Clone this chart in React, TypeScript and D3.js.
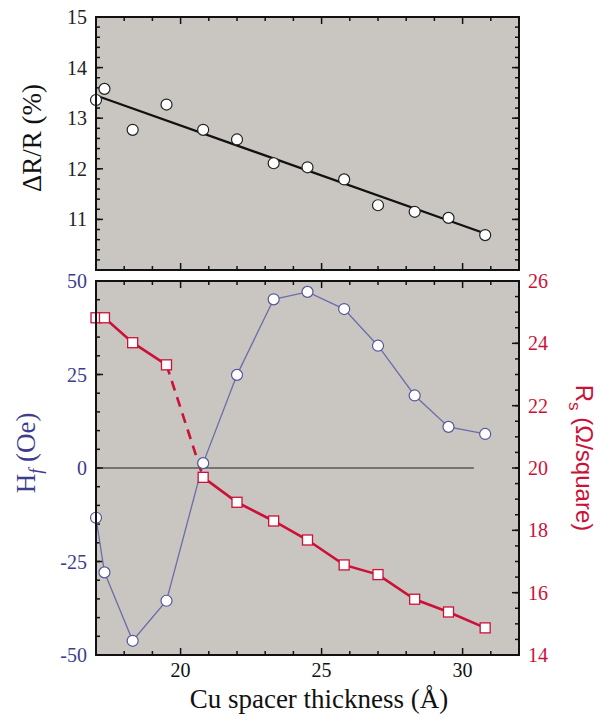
import React from 'react';
import * as d3 from 'd3';

// Cu spacer thickness (Å) shared by all three series
const thickness = [17.0, 17.3, 18.3, 19.5, 20.8, 22.0, 23.3, 24.5, 25.8, 27.0, 28.3, 29.5, 30.8];
const deltaR = [13.36, 13.58, 12.77, 13.27, 12.77, 12.58, 12.11, 12.03, 11.79, 11.28, 11.15, 11.03, 10.69];
const fitX = [17.0, 30.8];
const fitY = [13.45, 10.72];
const hf = [-13.3, -27.9, -46.2, -35.5, 1.3, 24.9, 45.1, 47.1, 42.5, 32.7, 19.4, 11.0, 9.1];
const rs = [24.82, 24.82, 24.02, 23.31, 19.7, 18.9, 18.3, 17.69, 16.89, 16.58, 15.79, 15.38, 14.87];
const zeroLineX = [17, 30.4];

const xTicks = [20, 25, 30];
const drTicks = [11, 12, 13, 14, 15];
const hfTicks = [-50, -25, 0, 25, 50];
const rsTicks = [14, 16, 18, 20, 22, 24, 26];

const W = 599;
const H = 717;
const L = 96;
const R = 519;
const topY0 = 17;
const topY1 = 270;
const botY0 = 281;
const botY1 = 655;

const BLUE = '#3d3d8e';
const BLUE_LINE = '#6c6ca8';
const RED = '#cc1138';
const BG = '#c9c6c2';
const serif = { fontFamily: "'Liberation Serif', 'DejaVu Serif', serif" };
const sans = { fontFamily: "'Liberation Sans', Arial, sans-serif" };

const x = d3.scaleLinear().domain([17, 32]).range([L, R]);
const yTop = d3.scaleLinear().domain([10, 15]).range([topY1, topY0]);
const yHf = d3.scaleLinear().domain([-50, 50]).range([botY1, botY0]);
const yRs = d3.scaleLinear().domain([14, 26]).range([botY1, botY0]);

const xMinor = d3.range(18, 32, 1);

const Frame = ({ y0, y1, yMajor, yMinor, yRMajor, yRMinor }: any) => {
  const ticks: any[] = [];
  xMinor.forEach((v, i) => {
    const len = v % 5 === 0 ? 7 : 4;
    ticks.push(<line key={'xb' + i} x1={x(v)} x2={x(v)} y1={y1} y2={y1 - len} />);
    ticks.push(<line key={'xt' + i} x1={x(v)} x2={x(v)} y1={y0} y2={y0 + len} />);
  });
  yMajor.forEach((p: number, i: number) => ticks.push(<line key={'ym' + i} x1={L} x2={L + 7} y1={p} y2={p} />));
  yMinor.forEach((p: number, i: number) => ticks.push(<line key={'yn' + i} x1={L} x2={L + 4} y1={p} y2={p} />));
  yRMajor.forEach((p: number, i: number) => ticks.push(<line key={'rm' + i} x1={R} x2={R - 7} y1={p} y2={p} />));
  yRMinor.forEach((p: number, i: number) => ticks.push(<line key={'rn' + i} x1={R} x2={R - 4} y1={p} y2={p} />));
  return (
    <g>
      <rect x={L} y={y0} width={R - L} height={y1 - y0} fill={BG} />
      <g stroke="#111" strokeWidth={1.5}>{ticks}</g>
    </g>
  );
};

export default function App() {
  const topMajor = d3.range(10, 15.01, 1).map(v => yTop(v));
  const topMinor = d3.range(10, 15.01, 0.2).map(v => yTop(v));
  const hfMajor = d3.range(-50, 50.01, 25).map(v => yHf(v));
  const hfMinor = d3.range(-50, 50.01, 5).map(v => yHf(v));
  const rsMajor = d3.range(14, 26.01, 2).map(v => yRs(v));
  const rsMinor = d3.range(14, 26.01, 0.5).map(v => yRs(v));

  const fitLine = d3.line<number>().x((d, i) => x(fitX[i])).y(d => yTop(d));
  const hfLine = d3.line<number>().x((d, i) => x(thickness[i])).y(d => yHf(d));
  const rsPts = thickness.map((t, i) => [t, rs[i]] as [number, number]);
  const rsLine = d3.line<[number, number]>().x(d => x(d[0])).y(d => yRs(d[1]));

  return (
    <svg width={W} height={H} style={{ position: 'absolute', left: 0, top: 0, background: '#fff', ...serif }}>
      {/* top panel */}
      <Frame y0={topY0} y1={topY1} yMajor={topMajor} yMinor={topMinor} yRMajor={topMajor} yRMinor={topMinor} />
      <path d={fitLine(fitY) || ''} fill="none" stroke="#111" strokeWidth={2.2} />
      {thickness.map((t, i) => (
        <circle key={'d' + i} cx={x(t)} cy={yTop(deltaR[i])} r={5.5} fill="#fff" stroke="#222" strokeWidth={1.2} />
      ))}
      <rect x={L} y={topY0} width={R - L} height={topY1 - topY0} fill="none" stroke="#111" strokeWidth={2} />
      {drTicks.map(v => (
        <text key={'dt' + v} x={L - 9} y={yTop(v)} dy="0.35em" textAnchor="end" style={serif} fontSize={20} fill="#222">{v}</text>
      ))}
      <text transform={`translate(32,138) rotate(-90)`} textAnchor="middle" dy="0.35em" style={serif} fontSize={27} fill="#111">ΔR/R (%)</text>

      {/* bottom panel */}
      <Frame y0={botY0} y1={botY1} yMajor={hfMajor} yMinor={hfMinor} yRMajor={rsMajor} yRMinor={rsMinor} />
      <line x1={x(zeroLineX[0])} x2={x(zeroLineX[1])} y1={yHf(0)} y2={yHf(0)} stroke="#222" strokeWidth={1} />
      <path d={hfLine(hf) || ''} fill="none" stroke={BLUE_LINE} strokeWidth={1.3} />
      <path d={rsLine(rsPts.slice(0, 4)) || ''} fill="none" stroke={RED} strokeWidth={2.6} />
      <path d={rsLine(rsPts.slice(3, 5)) || ''} fill="none" stroke={RED} strokeWidth={2.6} strokeDasharray="10,7" />
      <path d={rsLine(rsPts.slice(4)) || ''} fill="none" stroke={RED} strokeWidth={2.6} />
      {thickness.map((t, i) => (
        <circle key={'h' + i} cx={x(t)} cy={yHf(hf[i])} r={5.5} fill="#fff" stroke="#55559a" strokeWidth={1.2} />
      ))}
      {rsPts.map((d, i) => (
        <rect key={'r' + i} x={x(d[0]) - 5} y={yRs(d[1]) - 5} width={10} height={10} fill="#fff" stroke={RED} strokeWidth={1.3} />
      ))}
      <rect x={L} y={botY0} width={R - L} height={botY1 - botY0} fill="none" stroke="#111" strokeWidth={2} />
      {hfTicks.map(v => (
        <text key={'ht' + v} x={L - 9} y={yHf(v)} dy="0.35em" textAnchor="end" style={serif} fontSize={20} fill={BLUE}>{v}</text>
      ))}
      {rsTicks.map(v => (
        <text key={'rt' + v} x={R + 9} y={yRs(v)} dy="0.35em" textAnchor="start" style={serif} fontSize={20} fill={RED}>{v}</text>
      ))}
      {xTicks.map(v => (
        <text key={'xt' + v} x={x(v)} y={677} textAnchor="middle" style={serif} fontSize={20} fill="#111">{v}</text>
      ))}
      <text x={319} y={708} textAnchor="middle" style={serif} fontSize={27} fill="#111">Cu spacer thickness (Å)</text>
      <text transform={`translate(26,453) rotate(-90)`} textAnchor="middle" dy="0.35em" style={serif} fontSize={27} fill={BLUE}>
        H<tspan dy="7" fontSize={18} fontStyle="italic">f</tspan><tspan dy="-7"> (Oe)</tspan>
      </text>
      <text transform={`translate(584,458) rotate(90)`} textAnchor="middle" dy="0.35em" style={sans} fontSize={24} fill={RED}>
        R<tspan dy="7" fontSize={17}>s</tspan><tspan dy="-7"> (Ω/square)</tspan>
      </text>
    </svg>
  );
}
